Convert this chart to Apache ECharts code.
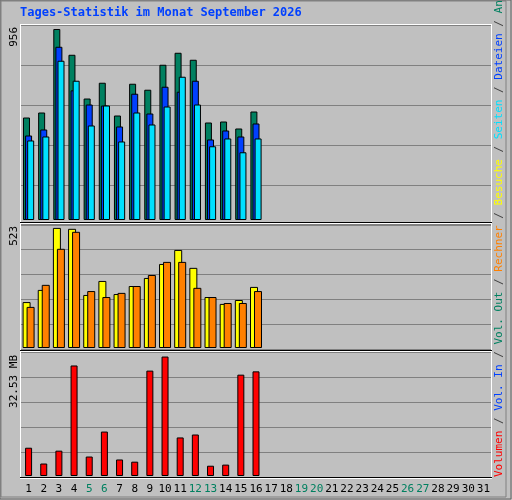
<!DOCTYPE html>
<html><head><meta charset="utf-8">
<script src="https://cdn.jsdelivr.net/npm/echarts@6/dist/echarts.min.js"></script>
<style>html,body{margin:0;padding:0;background:#c0c0c0}#c{width:512px;height:500px}</style>
</head><body><div id="c"></div>
<script>
const days = Array.from({length:31},(_,i)=>String(i+1));
const weekend = ['5','6','12','13','19','20','26','27'];
const hits  = [513,538,956,827,608,687,523,682,652,777,837,802,488,493,458,543];
const files = [423,453,867,649,578,573,468,632,533,667,642,697,403,448,418,483];
const pages = [398,418,797,697,473,573,393,538,478,568,717,578,369,408,339,408];
const visits= [200,253,523,519,231,292,235,270,305,366,427,349,222,192,209,266];
const sites = [179,275,432,506,248,222,240,270,318,375,375,262,222,196,196,248];
const volume= [7.7,3.4,6.9,30.1,5.3,12.1,4.5,3.9,28.7,32.53,10.5,11.3,2.8,3.1,27.6,28.5];
const maxLabels = ['956','523','32.53 MB'];

const mono = 'DejaVu Sans Mono';
const chart = echarts.init(document.getElementById('c'));
const L=21, W=470;
const grids = [
 {left:L,top:25,width:W,height:195},
 {left:L,top:224,width:W,height:124},
 {left:L,top:353,width:W,height:123},
 {left:L,top:25,width:W,height:200},
 {left:L,top:224,width:W,height:125},
 {left:L,top:352,width:W,height:125}
];
const xA = grids.map((g,i)=>({type:'category',gridIndex:i,data:days,boundaryGap:true,
  axisLine:{show:false},axisTick:{show:false},
  axisLabel:{show:i===2,interval:0,margin:8,fontFamily:mono,fontSize:11,color:'#000',
    formatter:v=>weekend.includes(v)?'{w|'+v+'}':v,rich:{w:{color:'#008060',fontFamily:mono,fontSize:11}}}}));
const mk=(i,max,split)=>({type:'value',gridIndex:i,min:0,max:max,interval:split?max/5:max,
  axisLabel:{show:false},axisLine:{show:false},axisTick:{show:false},
  splitLine:{show:!!split,lineStyle:{color:'#808080',width:1}}});
const yA=[mk(0,976),mk(1,540),mk(2,33.5),mk(3,5,true),mk(4,5,true),mk(5,5,true)];
const bs=(name,data,color,gi,w,gap)=>({type:'bar',name,data,xAxisIndex:gi,yAxisIndex:gi,barWidth:w,barGap:gap,
  itemStyle:{color,borderColor:'#000',borderWidth:1},z:3,animation:false});
const series=[
 bs('Anfragen',hits,'#008060',0,7,'-70%'),
 bs('Dateien',files,'#0040ff',0,7,'-70%'),
 bs('Seiten',pages,'#00e0ff',0,7,'-70%'),
 bs('Besuche',visits,'#ffff00',1,8,'-50%'),
 bs('Rechner',sites,'#ff8000',1,8,'-50%'),
 bs('Volumen',volume,'#ff0000',2,7,'0%')
];
const sep='{s| / }';
const legendText='{r|Volumen}'+sep+'{b|Vol. In}'+sep+'{g|Vol. Out}'+sep+'{o|Rechner}'+sep+'{y|Besuche}'+sep+'{c|Seiten}'+sep+'{b|Dateien}'+sep+'{g|Anfragen}';
const f={fontFamily:mono,fontSize:11};
const graphic=[
 {type:'rect',shape:{x:1,y:1,width:505,height:496},style:{fill:'none',stroke:'#808080',lineWidth:1},z:0},
 {type:'rect',shape:{x:0,y:0,width:511,height:499},style:{fill:'none',stroke:'#606060',lineWidth:1},z:0},
 {type:'text',left:20,top:7,style:{text:'Tages-Statistik im Monat September 2026',fontFamily:mono,fontWeight:'bold',fontSize:12,fill:'#0040ff'}},
 {type:'line',shape:{x1:20,y1:24.5,x2:492,y2:24.5},style:{stroke:'#fff'},z:10},
 {type:'line',shape:{x1:20.5,y1:24,x2:20.5,y2:479},style:{stroke:'#fff'},z:10},
 {type:'line',shape:{x1:491.5,y1:24,x2:491.5,y2:479},style:{stroke:'#fff'},z:10},
 {type:'line',shape:{x1:20,y1:478.5,x2:492,y2:478.5},style:{stroke:'#fff'},z:10},
 {type:'line',shape:{x1:20,y1:222.5,x2:492,y2:222.5},style:{stroke:'#000'},z:10},
 {type:'line',shape:{x1:20,y1:223.5,x2:492,y2:223.5},style:{stroke:'#fff'},z:10},
 {type:'line',shape:{x1:20,y1:350.5,x2:492,y2:350.5},style:{stroke:'#000'},z:10},
 {type:'line',shape:{x1:20,y1:351.5,x2:492,y2:351.5},style:{stroke:'#fff'},z:10},
 {type:'line',shape:{x1:20,y1:477.5,x2:492,y2:477.5},style:{stroke:'#000'},z:10},
 {type:'text',x:9,y:27,rotation:Math.PI/2,style:Object.assign({text:maxLabels[0],fill:'#000',align:'right',verticalAlign:'top'},f)},
 {type:'text',x:9,y:226,rotation:Math.PI/2,style:Object.assign({text:maxLabels[1],fill:'#000',align:'right',verticalAlign:'top'},f)},
 {type:'text',x:9,y:355,rotation:Math.PI/2,style:Object.assign({text:maxLabels[2],fill:'#000',align:'right',verticalAlign:'top'},f)},
 {type:'text',x:494,y:477,rotation:Math.PI/2,style:{text:legendText,align:'left',verticalAlign:'top',fontFamily:mono,fontSize:11,
   rich:{s:{fill:'#404040',fontFamily:mono,fontSize:11},r:{fill:'#ff0000',fontFamily:mono,fontSize:11},b:{fill:'#0040ff',fontFamily:mono,fontSize:11},
   g:{fill:'#008060',fontFamily:mono,fontSize:11},o:{fill:'#ff8000',fontFamily:mono,fontSize:11},y:{fill:'#ffff00',fontFamily:mono,fontSize:11},c:{fill:'#00e0ff',fontFamily:mono,fontSize:11}}}}
];
chart.setOption({animation:false,backgroundColor:'#c0c0c0',grid:grids,xAxis:xA,yAxis:yA,series,graphic});
</script></body></html>
